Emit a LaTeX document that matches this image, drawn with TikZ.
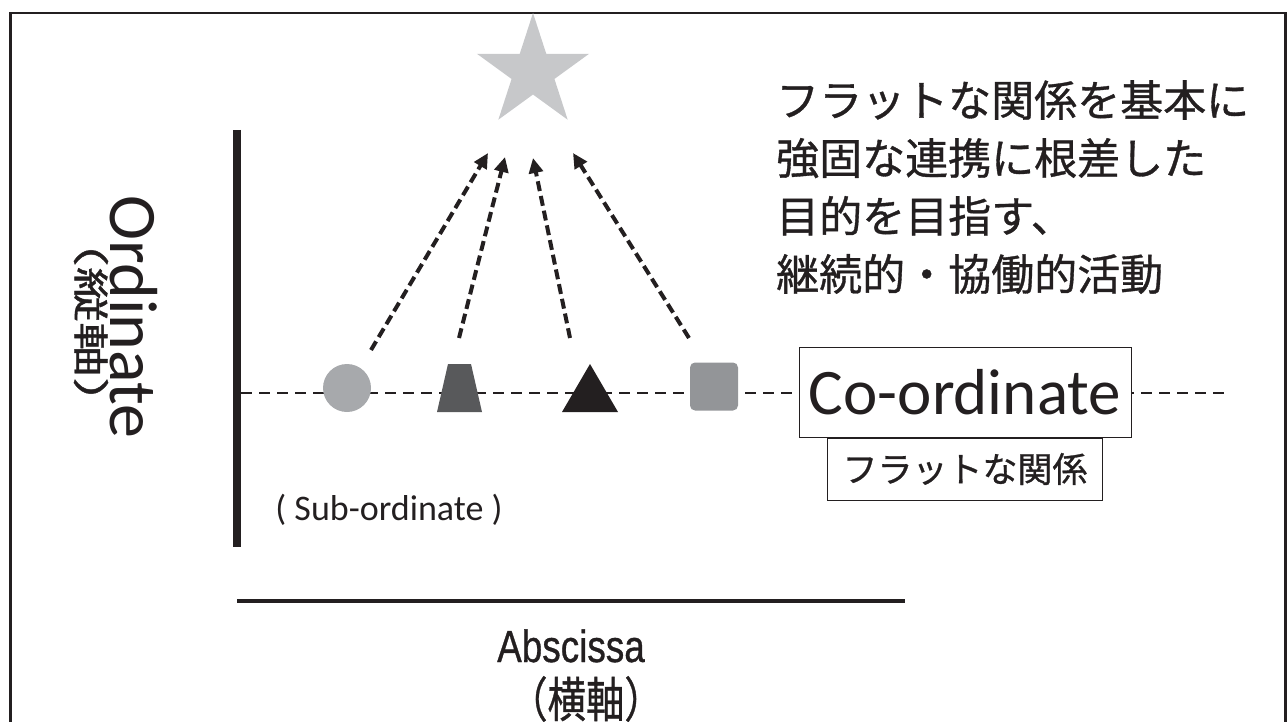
\documentclass[tikz,border=0pt]{standalone}
\usepackage{fontspec}
\setmainfont{Carlito}
\newfontfamily\jpfont[FakeBold=0.8]{Noto Sans CJK JP}
\newfontfamily\arialfont[FakeBold=0.8]{Liberation Sans}
\usetikzlibrary{arrows.meta,shapes.geometric,positioning}
\definecolor{inkblack}{HTML}{231F20}
\definecolor{circlegray}{HTML}{A7A9AC}
\definecolor{trapgray}{HTML}{58595B}
\definecolor{squaregray}{HTML}{939598}
\definecolor{stargray}{HTML}{C7C8CA}

\tikzset{
  axisline/.style={inkblack},
  flowarrow/.style={inkblack, line width=4pt, dash pattern=on 10pt off 5pt,
    -{Triangle[length=15pt,width=14pt]}},
  labelbox/.style={draw=inkblack, line width=1pt, fill=white, inner sep=0pt, text=inkblack}
}

\begin{document}
\begin{tikzpicture}[x=1pt,y=-1pt]
            \useasboundingbox (0,0) rectangle (1287,722);
            % outer frame
            \draw[inkblack,line width=2.5pt] (10.5,730) -- (10.5,13) -- (1285.5,13) -- (1285.5,730);

            % axes
            \coordinate (vtop) at (237,130);
            \coordinate (vbot) at (237,547);
            \draw[axisline,line width=8pt] (vtop) -- (vbot);
            \coordinate (hleft) at (237,601);
            \coordinate (hright) at (905,601);
            \draw[axisline,line width=4pt] (hleft) -- (hright);
            \coordinate (lstart) at (241,393);
            \coordinate (lend) at (1230,393);
            \draw[inkblack,line width=2.6pt,dash pattern=on 11pt off 7pt] (lstart) -- (lend);

            % the four members on the line
            \node[circle,fill=circlegray,minimum size=48pt,inner sep=0pt] (circ) at (347,388) {};
            \fill[trapgray] (448,364) -- (471,364) -- (482,412) -- (437,412) -- cycle;
            \fill[inkblack] (590,364) -- (618,412) -- (562,412) -- cycle;
            \node[fill=squaregray,rounded corners=5pt,minimum size=48pt,inner sep=0pt] (sq) at (714,386.5) {};

            % goal
            \node[star,star points=5,star point ratio=2.618,minimum size=118pt,inner sep=0pt,fill=stargray] (goal) at (533,72) {};

            % arrows up to the goal
            \coordinate (t1) at (371,350);
            \coordinate (h1) at (488,153);
            \coordinate (t2) at (459,338);
            \coordinate (h2) at (505,157);
            \coordinate (t3) at (570,338);
            \coordinate (h3) at (533,158);
            \coordinate (t4) at (689,338);
            \coordinate (h4) at (573,153);
            \draw[flowarrow] (t1) -- (h1);
            \draw[flowarrow] (t2) -- (h2);
            \draw[flowarrow] (t3) -- (h3);
            \draw[flowarrow] (t4) -- (h4);

            % labels
            \node[labelbox,minimum width=332pt,minimum height=90pt,font=\fontsize{65}{70}\selectfont] (coord) at (965,392) {Co-ordinate};
            \node[labelbox,below=0pt of coord,minimum width=275pt,minimum height=62pt,font=\jpfont\fontsize{35}{40}\selectfont] (flat) {フラットな関係};
            \node[text=inkblack,font=\fontsize{36}{40}\selectfont] (sub) at (389,510) {( Sub-ordinate )};
            \node[text=inkblack,rotate=-90,font=\fontsize{68}{72}\selectfont] (ord) at (134,317) {Ordinate};
            \node[text=inkblack,rotate=-90,xscale=1.1,yscale=0.72,font=\jpfont\fontsize{50}{54}\selectfont] (ordjp) at (91,322) {（縦軸）};
            \node[text=inkblack,xscale=0.82,anchor=base,font=\arialfont\fontsize{45}{48}\selectfont] (absc) at (571,662) {Abscissa};
            \node[text=inkblack,xscale=0.8,font=\jpfont\fontsize{48}{52}\selectfont] (abscjp) at (586,699) {（横軸）};
            \node[text=inkblack,anchor=north west,inner sep=0pt,align=left,font=\jpfont\fontsize{43}{58}\selectfont] (aim) at (776,80)
              {フラットな関係を基本に\\強固な連携に根差した\\目的を目指す、\\継続的・協働的活動};
        \end{tikzpicture}
\end{document}
